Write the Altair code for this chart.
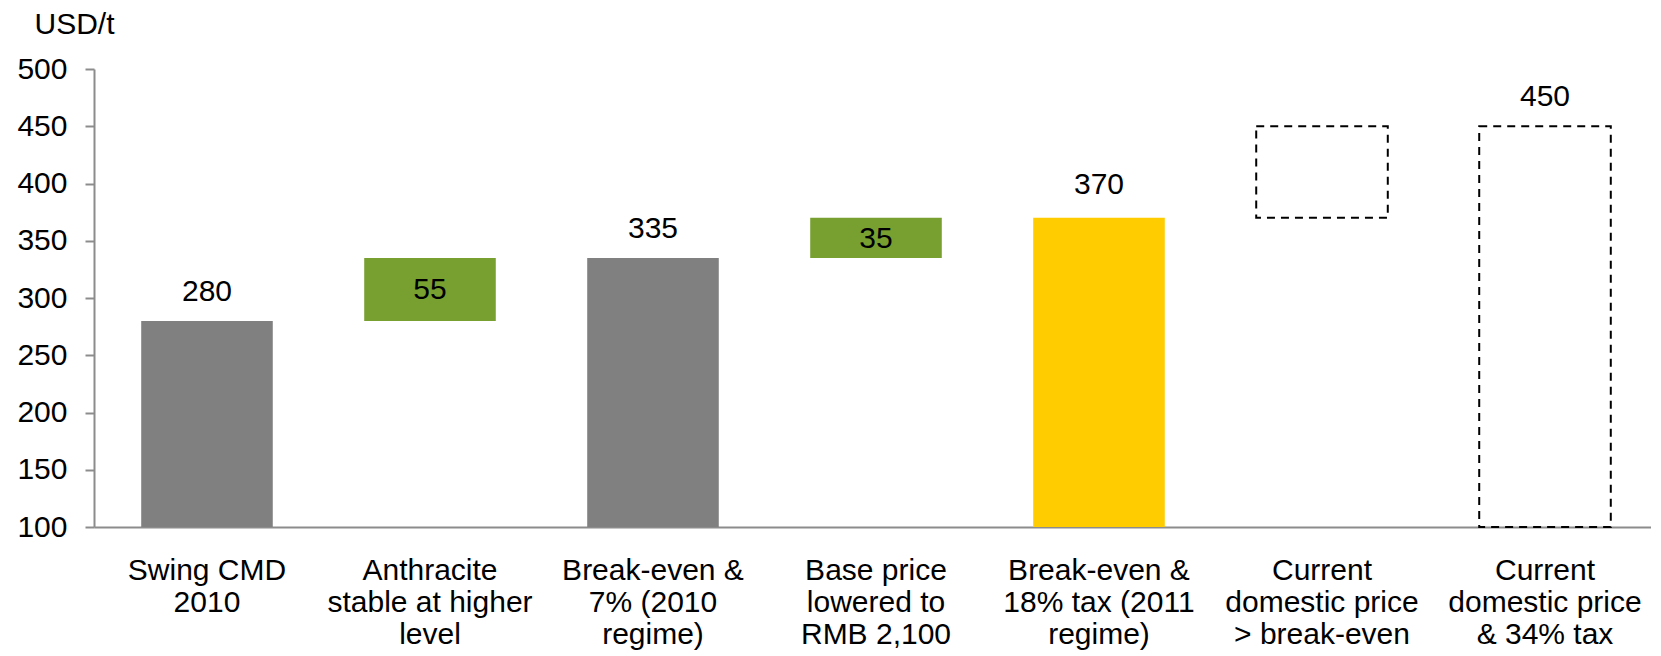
import altair as alt
import pandas as pd

categories = [
    "Swing CMD|2010",
    "Anthracite|stable at higher|level",
    "Break-even &|7% (2010|regime)",
    "Base price|lowered to|RMB 2,100",
    "Break-even &|18% tax (2011|regime)",
    "Current|domestic price|> break-even",
    "Current|domestic price|& 34% tax",
]
bar_start = [100, 280, 100, 335, 100, 370, 100]
bar_end = [280, 335, 335, 370, 370, 450, 450]
bar_kind = ["total", "delta", "total", "delta", "highlight", "dashed", "dashed"]
label_text = ["280", "55", "335", "35", "370", "", "450"]
label_pos = ["above", "inside", "above", "inside", "above_high", "none", "above"]

df = pd.DataFrame({
    "cat": categories,
    "start": bar_start,
    "end": bar_end,
    "kind": bar_kind,
    "label": label_text,
    "pos": label_pos,
})
df["mid"] = (df["start"] + df["end"]) / 2

FONT = "Liberation Sans"
FS = 30

x_enc = alt.X(
    "cat:N",
    sort=categories,
    scale=alt.Scale(paddingInner=0.41, paddingOuter=0.196, align=0.54),
    axis=alt.Axis(
        title=None,
        labelAngle=0,
        labelExpr="split(datum.label, '|')",
        labelFont=FONT,
        labelFontSize=FS,
        labelColor="black",
        labelLineHeight=32,
        labelPadding=28,
        labelBaseline="top",
        labelLimit=0,
        ticks=False,
        domainColor="#8c8c8c",
        domainWidth=2,
        grid=False,
    ),
)

y_scale = alt.Scale(domain=[100, 500], nice=False, zero=False)

color_scale = alt.Scale(
    domain=["total", "delta", "highlight"],
    range=["#808080", "#78A030", "#FFCC00"],
)

solid = alt.Chart(df).transform_filter(alt.datum.kind != "dashed").mark_bar().encode(
    x=x_enc,
    y=alt.Y(
        "end:Q",
        scale=y_scale,
        axis=alt.Axis(
            values=[100, 150, 200, 250, 300, 350, 400, 450, 500],
            title="USD/t",
            titleAngle=0,
            titleAlign="left",
            titleBaseline="middle",
            titleX=-60,
            titleY=-45,
            titleFont=FONT,
            titleFontSize=FS,
            titleFontWeight="normal",
            titleColor="black",
            labelFont=FONT,
            labelFontSize=FS,
            labelColor="black",
            labelPadding=18,
            tickSize=9,
            tickColor="#8c8c8c",
            tickWidth=2,
            domainColor="#8c8c8c",
            domainWidth=2,
            grid=False,
        ),
    ),
    y2="start:Q",
    color=alt.Color("kind:N", scale=color_scale, legend=None),
)

dashed = alt.Chart(df).transform_filter(alt.datum.kind == "dashed").mark_bar(
    fill="white", fillOpacity=0, stroke="black", strokeWidth=2, strokeDash=[8, 6]
).encode(
    x=alt.X("cat:N", sort=categories),
    y=alt.Y("end:Q", scale=y_scale),
    y2="start:Q",
)

above = alt.Chart(df).transform_filter(alt.datum.pos == "above").mark_text(
    font=FONT, fontSize=FS, color="black", baseline="bottom", dy=-14
).encode(
    x=alt.X("cat:N", sort=categories),
    y=alt.Y("end:Q", scale=y_scale),
    text="label:N",
)

above_high = alt.Chart(df).transform_filter(alt.datum.pos == "above_high").mark_text(
    font=FONT, fontSize=FS, color="black", baseline="bottom", dy=-18
).encode(
    x=alt.X("cat:N", sort=categories),
    y=alt.Y("end:Q", scale=y_scale),
    text="label:N",
)

inside = alt.Chart(df).transform_filter(alt.datum.pos == "inside").mark_text(
    font=FONT, fontSize=FS, color="black", baseline="middle", dy=1
).encode(
    x=alt.X("cat:N", sort=categories),
    y=alt.Y("mid:Q", scale=y_scale),
    text="label:N",
)

chart = alt.layer(solid, dashed, above, above_high, inside).properties(
    width=1557,
    height=458,
    autosize=alt.AutoSizeParams(type="none"),
    padding={"left": 86, "top": 61, "right": 0, "bottom": 129},
).configure_view(stroke=None)

chart.save("out.html", embed_options={"renderer": "svg", "actions": False})
